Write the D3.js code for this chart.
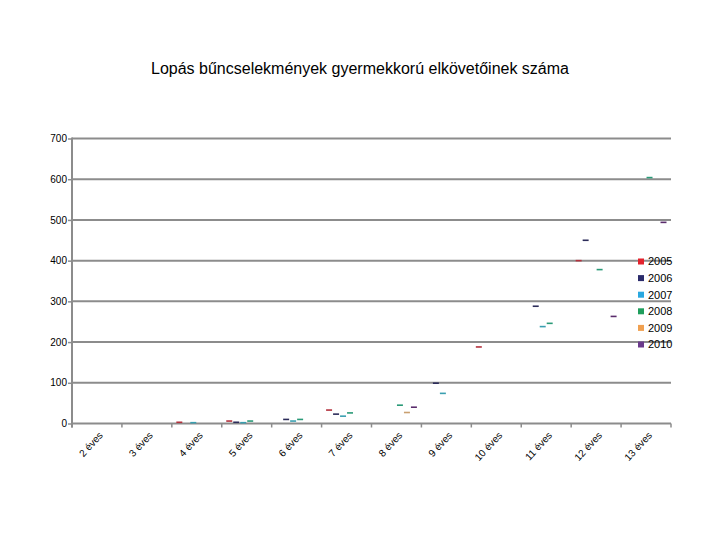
<!DOCTYPE html>
<html>
<head>
<meta charset="utf-8">
<script src="https://cdn.jsdelivr.net/npm/d3@7"></script>
<style>
  body { margin: 0; background: white; }
  text { font-family: "Liberation Sans", Arial, sans-serif; }
</style>
</head>
<body>
<svg id="chart"></svg>
<script>
// DATA
var categories = ["2 éves", "3 éves", "4 éves", "5 éves", "6 éves", "7 éves",
                  "8 éves", "9 éves", "10 éves", "11 éves", "12 éves", "13 éves"];
var years = ["2005", "2006", "2007", "2008", "2009", "2010"];
var values2005 = [null, null, 3, 6, null, 33, null, null, 188, null, 400, null];
var values2006 = [null, null, null, 3, 10, 23, null, 99, null, 288, 450, null];
var values2007 = [null, null, 2, 2, 6, 18, null, 74, null, 238, null, null];
var values2008 = [null, null, null, 6, 10, 26, 45, null, null, 246, 378, 604];
var values2009 = [null, null, null, null, null, null, 27, null, null, null, null, null];
var values2010 = [null, null, null, null, null, null, 40, null, null, null, 263, 494];
var yTicks = [0, 100, 200, 300, 400, 500, 600, 700];
var title = "Lopás bűncselekmények gyermekkorú elkövetőinek száma";

// NEEDED VARIABLES
var width = 720;
var height = 540;
var plot = {left: 72, right: 671, top: 138.5, bottom: 423.5};
var legendColors = ["#e3222c", "#2b2b6b", "#2aa8e0", "#1f9e5c", "#f0a050", "#6b3a8c"];
var dashColors = ["#b3303c", "#2c2c5a", "#3a9fb0", "#2a9a78", "#c9a070", "#5a2c6c"];
var gridColor = "#8c8c8c";

var svg = d3.select("#chart")
  .attr("width", width)
  .attr("height", height)
  ;

// data table: one row per year
var series = years.map((year, i) => ({
  year: year,
  values: [values2005, values2006, values2007, values2008, values2009, values2010][i]
}));

// Scales
var xScale = d3.scaleBand()
  .domain(categories)
  .range([plot.left, plot.right])
  .padding(0)
  ;

var xInner = d3.scaleBand()
  .domain(years)
  .range([4, xScale.bandwidth() - 4])
  .padding(0)
  ;

var yScale = d3.scaleLinear()
  .domain([0, 700])
  .range([plot.bottom, plot.top])
  ;

// Title
svg.append("text")
  .attr("x", 360)
  .attr("y", 74)
  .attr("text-anchor", "middle")
  .style("font-size", "16px")
  .text(title)
  ;

// Gridlines
svg.append("g")
  .selectAll("line")
  .data(yTicks.filter((d) => d > 0))
  .join("line")
  .attr("x1", plot.left)
  .attr("x2", plot.right)
  .attr("y1", (d) => yScale(d))
  .attr("y2", (d) => yScale(d))
  .attr("stroke", gridColor)
  .attr("stroke-width", 2)
  ;

// Y Axis
var yAxis = d3.axisLeft(yScale)
  .tickValues(yTicks)
  .tickSize(4)
  .tickPadding(1)
  ;

var yAxisChart = svg.append("g")
  .attr("transform", "translate(" + plot.left + ",0)")
  .call(yAxis)
  ;

yAxisChart.select(".domain")
  .attr("d", "M0," + (plot.top - 1) + "V" + (plot.bottom + 4))
  .attr("stroke", gridColor)
  .attr("stroke-width", 2)
  ;
yAxisChart.selectAll(".tick line").attr("stroke", gridColor).attr("stroke-width", 1.5);
yAxisChart.selectAll(".tick text")
  .style("font-size", "10px")
  .style("font-family", "'Liberation Sans', Arial, sans-serif")
  .attr("fill", "#000")
  ;

// X Axis (ticks at category boundaries)
var boundaries = categories.map((c) => xScale(c)).concat([plot.right]);

svg.append("line")
  .attr("x1", plot.left)
  .attr("x2", plot.right)
  .attr("y1", plot.bottom)
  .attr("y2", plot.bottom)
  .attr("stroke", gridColor)
  .attr("stroke-width", 2)
  ;

svg.append("g")
  .selectAll("line")
  .data(boundaries)
  .join("line")
  .attr("x1", (d) => d)
  .attr("x2", (d) => d)
  .attr("y1", plot.bottom)
  .attr("y2", plot.bottom + 4)
  .attr("stroke", gridColor)
  .attr("stroke-width", 1.5)
  ;

svg.append("g")
  .selectAll("text")
  .data(categories)
  .join("text")
  .attr("transform", (d) => "translate(" + (xScale(d) + xScale.bandwidth() / 2 + 4) + "," + (plot.bottom + 10) + ") rotate(-47)")
  .attr("text-anchor", "end")
  .attr("dy", "0.35em")
  .style("font-size", "10px")
  .text((d) => d)
  ;

// Marks: short dashes at each value
var marks = svg.append("g");

series.forEach((s, i) => {
  marks.append("g")
    .selectAll("line")
    .data(s.values.map((v, j) => ({cat: categories[j], value: v})).filter((d) => d.value != null))
    .join("line")
    .attr("x1", (d) => xScale(d.cat) + xInner(s.year) + 0.5)
    .attr("x2", (d) => xScale(d.cat) + xInner(s.year) + xInner.bandwidth() - 0.5)
    .attr("y1", (d) => yScale(d.value))
    .attr("y2", (d) => yScale(d.value))
    .attr("stroke", dashColors[i])
    .attr("stroke-width", 1.6)
    ;
});

// Legend
var legend = svg.append("g")
  .attr("transform", "translate(638,261.5)")
  ;

var legendItems = legend.selectAll("g")
  .data(years)
  .join("g")
  .attr("transform", (d, i) => "translate(0," + (i * 16.6) + ")")
  ;

legendItems.append("rect")
  .attr("x", 0)
  .attr("y", -3)
  .attr("width", 6)
  .attr("height", 6)
  .attr("fill", (d, i) => legendColors[i])
  ;

legendItems.append("text")
  .attr("x", 10)
  .attr("y", 0)
  .attr("dy", "0.36em")
  .style("font-size", "11px")
  .text((d) => d)
  ;
</script>
</body>
</html>
